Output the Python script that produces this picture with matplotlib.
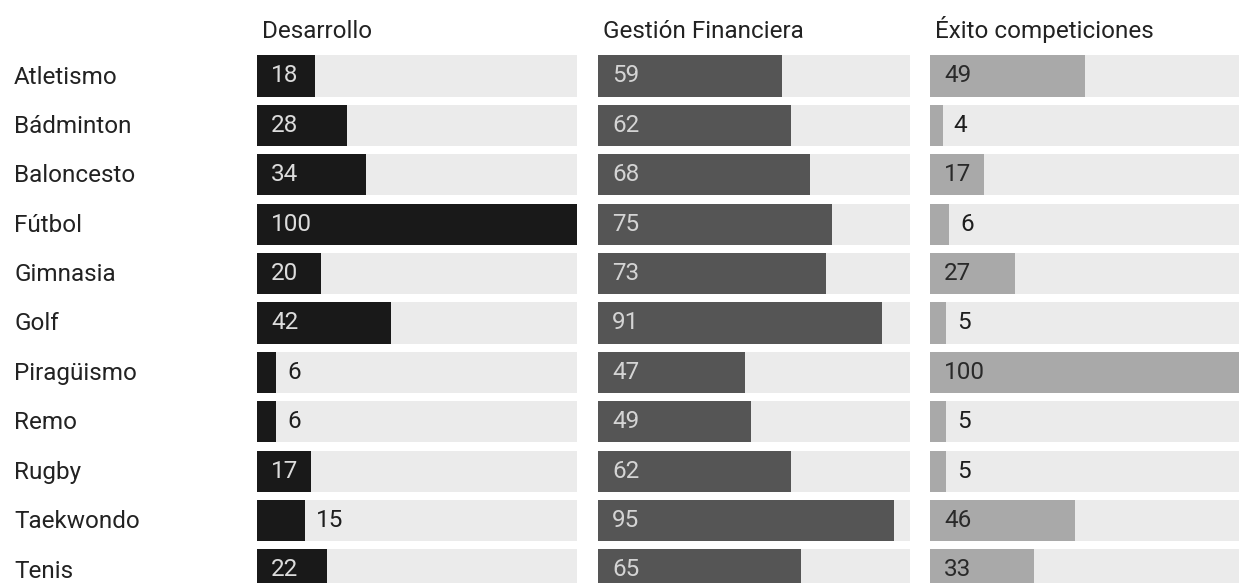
import matplotlib
matplotlib.use("Agg")
import matplotlib.pyplot as plt

plt.rcParams['font.family'] = ['Roboto', 'DejaVu Sans']

deportes = ["Atletismo", "Bádminton", "Baloncesto", "Fútbol", "Gimnasia", "Golf",
            "Piragüismo", "Remo", "Rugby", "Taekwondo", "Tenis"]
desarrollo = [18, 28, 34, 100, 20, 42, 6, 6, 17, 15, 22]
gestion = [59, 62, 68, 75, 73, 91, 47, 49, 62, 95, 65]
exito = [49, 4, 17, 6, 27, 5, 100, 5, 5, 46, 33]

titulos = ["Desarrollo", "Gestión Financiera", "Éxito competiciones"]
series = [desarrollo, gestion, exito]
colores = ["#191919", "#555555", "#a9a9a9"]
color_txt = ["#dcdcdc", "#d4d4d4", "#2a2a2a"]
fondo = "#ebebeb"
fs = 17.5

W, H = 1239, 583
fig = plt.figure(figsize=(W / 100, H / 100), dpi=100)

# posiciones de los paneles en pixeles (izquierda, ancho)
paneles = [(257, 320), (598, 312), (930, 316)]
fila0, paso = 76, 49.4
top_px = fila0 - paso / 2
alto_px = paso * len(deportes)

for k, (x0, ancho) in enumerate(paneles):
    ax = fig.add_axes([x0 / W, (H - top_px - alto_px) / H, ancho / W, alto_px / H])
    y = list(range(len(deportes)))
    ax.barh(y, [100] * len(deportes), height=0.83, color=fondo)
    ax.barh(y, series[k], height=0.83, color=colores[k])
    for i, v in enumerate(series[k]):
        if v < 16:
            ax.annotate(str(v), (v, i), xytext=(8, 0), textcoords="offset points",
                        va="center", ha="left", fontsize=fs, color="#1e1e1e")
        else:
            ax.annotate(str(v), (0, i), xytext=(10, 0), textcoords="offset points",
                        va="center", ha="left", fontsize=fs, color=color_txt[k])
    ax.set_xlim(0, 100)
    ax.set_ylim(len(deportes) - 0.5, -0.5)
    ax.axis("off")
    fig.text((x0 + 5) / W, 1 - 38 / H, titulos[k], fontsize=fs, color="#222222",
             ha="left", va="baseline")

for i, d in enumerate(deportes):
    fig.text(14 / W, 1 - (fila0 + 7.5 + paso * i) / H, d, fontsize=fs, color="#222222",
             ha="left", va="baseline")

fig.savefig("out.png", dpi=100)
